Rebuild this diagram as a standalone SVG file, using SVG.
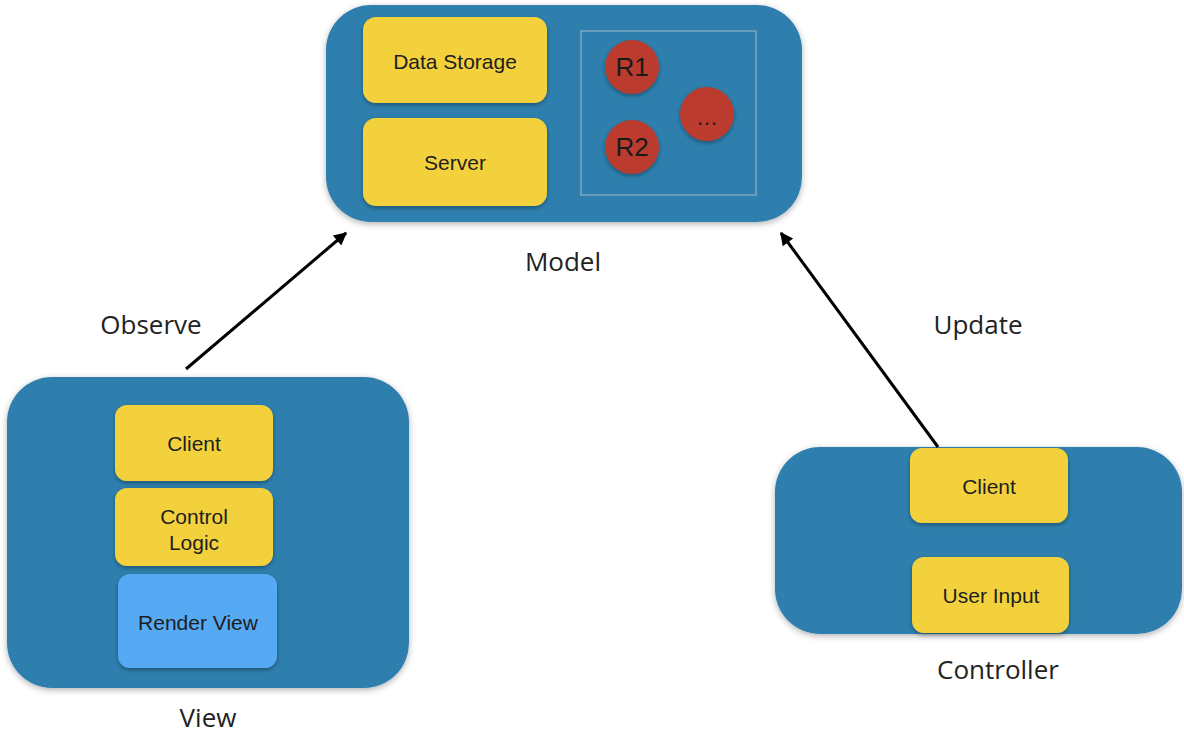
<svg xmlns="http://www.w3.org/2000/svg" width="1184" height="738" viewBox="0 0 1184 738">
  <defs>
    <filter id="shadow" x="-10%" y="-10%" width="120%" height="130%">
      <feDropShadow dx="0" dy="2" stdDeviation="2" flood-color="#000" flood-opacity="0.35"/>
    </filter>
    <filter id="shadowSoft" x="-10%" y="-10%" width="120%" height="130%">
      <feDropShadow dx="0" dy="2" stdDeviation="3" flood-color="#000" flood-opacity="0.3"/>
    </filter>
    <marker id="arrow" viewBox="0 0 10 10" refX="9" refY="5" markerWidth="15" markerHeight="13" markerUnits="userSpaceOnUse" orient="auto">
      <path d="M0,0 L10,5 L0,10 z" fill="#000"/>
    </marker>
    <style>
      .panel { fill: #2f7fae; filter: url(#shadowSoft); }
      .box { fill: #f2d13c; filter: url(#shadow); }
      .boxBlue { fill: #57a9f3; filter: url(#shadow); }
      .res { fill: #bb3b2e; filter: url(#shadow); }
      .inner { font-family: "Liberation Sans", Arial, sans-serif; font-size: 21px; fill: #1e1e1e; text-anchor: middle; }
      .resText { font-family: "Liberation Sans", Arial, sans-serif; font-size: 26px; fill: #1a1a1a; text-anchor: middle; }
      .label { font-family: "Open Sans", "Liberation Sans", sans-serif; font-size: 26px; fill: #222; text-anchor: middle; }
      .conn { stroke: #000; stroke-width: 3; fill: none; }
    </style>
  </defs>

  <rect width="1184" height="738" fill="#ffffff"/>

  <!-- Model -->
  <g id="model">
    <rect class="panel" x="326" y="5" width="476" height="217" rx="45"/>
    <rect class="box" x="363" y="17" width="184" height="86" rx="13"/>
    <text class="inner" x="455" y="69">Data Storage</text>
    <rect class="box" x="363" y="118" width="184" height="88" rx="13"/>
    <text class="inner" x="455" y="170">Server</text>
    <rect x="581" y="31" width="175" height="164" fill="none" stroke="#8fb1c6" stroke-width="1.2"/>
    <circle class="res" cx="632" cy="67" r="27"/>
    <text class="resText" x="632" y="76">R1</text>
    <circle class="res" cx="632" cy="147" r="27"/>
    <text class="resText" x="632" y="156">R2</text>
    <circle class="res" cx="707" cy="114" r="27"/>
    <text class="resText" x="707" y="125" style="font-size:22px">…</text>
    <text class="label" x="563" y="271">Model</text>
  </g>

  <!-- View -->
  <g id="view">
    <rect class="panel" x="7" y="377" width="402" height="311" rx="45"/>
    <rect class="box" x="115" y="405" width="158" height="76" rx="12"/>
    <text class="inner" x="194" y="451">Client</text>
    <rect class="box" x="115" y="488" width="158" height="78" rx="12"/>
    <text class="inner" x="194" y="524">Control</text>
    <text class="inner" x="194" y="550">Logic</text>
    <rect class="boxBlue" x="118" y="574" width="159" height="94" rx="12"/>
    <text class="inner" x="198" y="630">Render View</text>
    <text class="label" x="208" y="727">View</text>
  </g>

  <!-- Controller -->
  <g id="controller">
    <rect class="panel" x="775" y="447" width="407" height="187" rx="45"/>
    <rect class="box" x="910" y="448" width="158" height="75" rx="12"/>
    <text class="inner" x="989" y="494">Client</text>
    <rect class="box" x="912" y="557" width="157" height="76" rx="12"/>
    <text class="inner" x="991" y="603">User Input</text>
    <text class="label" x="998" y="679">Controller</text>
  </g>

  <!-- Connectors -->
  <g id="connectors">
    <line class="conn" x1="186" y1="369" x2="346" y2="233" marker-end="url(#arrow)"/>
    <text class="label" x="151" y="334">Observe</text>
    <line class="conn" x1="938" y1="447" x2="781" y2="233" marker-end="url(#arrow)"/>
    <text class="label" x="978" y="334">Update</text>
  </g>
</svg>
